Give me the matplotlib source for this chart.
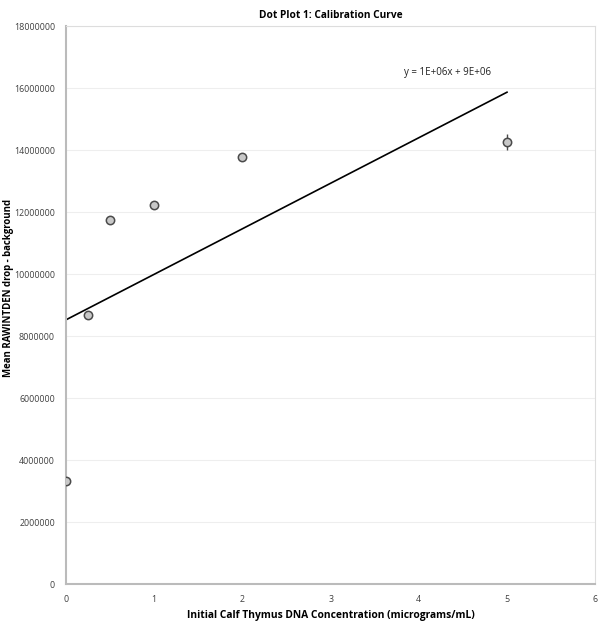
import matplotlib
matplotlib.use("Agg")
import matplotlib.pyplot as plt
import numpy as np
from matplotlib.ticker import FuncFormatter

plt.rcParams['font.family'] = ['Open Sans', 'DejaVu Sans']

# concentration (micrograms/mL) and mean RAWINTDEN drop - background
conc = [0, 0.25, 0.5, 1, 2, 5]
signal = [3320000, 8680000, 11740000, 12230000, 13770000, 14260000]
err = [100000, 80000, 80000, 80000, 80000, 260000]

slope, icpt = np.polyfit(conc, signal, 1)
fit_x = np.array([0, 5])

fig, ax = plt.subplots(figsize=(6, 6.22), dpi=100)
fig.subplots_adjust(left=0.11, right=0.992, top=0.958, bottom=0.061)

ax.errorbar(conc, signal, yerr=err, fmt='o', ms=6, mfc='#c8c8c8', mec='#4a4a4a',
            mew=1.1, ecolor='#4a4a4a', elinewidth=1, capsize=0, zorder=3)
ax.plot(fit_x, slope * fit_x + icpt, color='black', lw=1.2, zorder=2)
ax.text(3.83, 16500000, 'y = 1E+06x + 9E+06', fontsize=7, color='#222222', va='center')

ax.set_xlim(0, 6)
ax.set_ylim(0, 18000000)
ax.set_xticks(range(0, 7))
ax.set_yticks(range(0, 18000001, 2000000))
ax.yaxis.set_major_formatter(FuncFormatter(lambda v, p: '%d' % v))
ax.tick_params(labelsize=6.4, colors='#404040', length=0, pad=8)
ax.grid(axis='y', color='#eeeeee', lw=0.8)
ax.set_axisbelow(True)
for s in ax.spines.values():
    s.set_color('#dddddd')
ax.spines['left'].set_color('#bbbbbb')
ax.spines['bottom'].set_color('#bbbbbb')
ax.spines['left'].set_linewidth(1.5)
ax.spines['bottom'].set_linewidth(1.5)

ax.set_title('Dot Plot 1: Calibration Curve', fontsize=7.3, fontweight='bold', pad=6)
ax.set_xlabel('Initial Calf Thymus DNA Concentration (micrograms/mL)', fontsize=7.4,
              fontweight='bold', labelpad=4)
ax.set_ylabel('Mean RAWINTDEN drop - background', fontsize=6.9, fontweight='bold')
ax.yaxis.set_label_coords(-0.098, 0.53)

fig.savefig('out.png')
